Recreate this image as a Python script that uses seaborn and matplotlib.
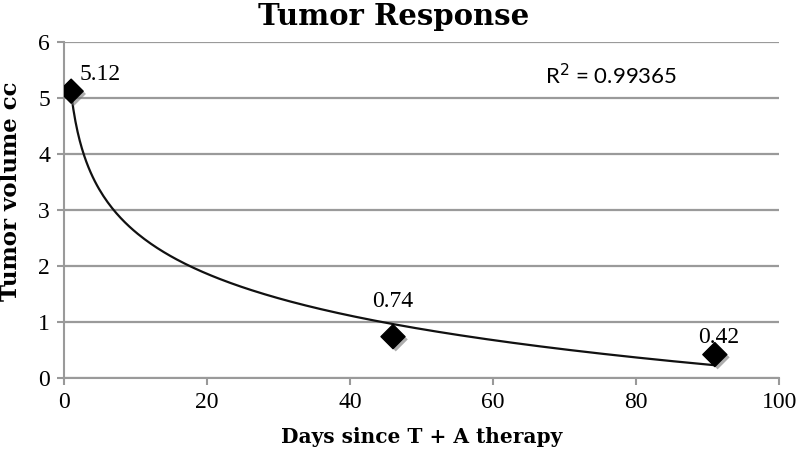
import matplotlib
matplotlib.use("Agg")
import matplotlib.pyplot as plt
import matplotlib.patheffects as pe
import numpy as np
import pandas as pd
import seaborn as sns

# observed tumor volumes
days = [1, 46, 91]
volume = [5.12, 0.74, 0.42]
point_labels = ["5.12", "0.74", "0.42"]
label_offsets = [(21, 8), (0, 21), (3, 8)]
r_squared_text = "R$^2$ = 0.99365"

x_ticks = [0, 20, 40, 60, 80, 100]
y_ticks = [0, 1, 2, 3, 4, 5, 6]

sns.set_style("white")
plt.rcParams["font.family"] = "serif"
plt.rcParams["font.serif"] = ["Liberation Serif", "DejaVu Serif"]
plt.rcParams["text.color"] = "black"
plt.rcParams["axes.labelcolor"] = "black"

df = pd.DataFrame({"days": days, "volume": volume})

# logarithmic trendline (like the spreadsheet one)
a, b = np.polyfit(np.log(df["days"]), df["volume"], 1)
trend_x = np.linspace(min(days), max(days), 300)
trend = pd.DataFrame({"days": trend_x, "volume": a * np.log(trend_x) + b})

fig = plt.figure(figsize=(8, 4.55), dpi=100)
ax = fig.add_axes([0.08, 0.169, 0.894, 0.739])

sns.lineplot(data=trend, x="days", y="volume", ax=ax, color="#111111", linewidth=1.6,
             zorder=3)
sns.scatterplot(data=df, x="days", y="volume", ax=ax, marker="D", s=150, color="black",
                edgecolor="black", zorder=4,
                path_effects=[pe.withSimplePatchShadow(offset=(2, -2), shadow_rgbFace="#777777",
                                                       alpha=0.6)])

for xv, yv, txt, off in zip(days, volume, point_labels, label_offsets):
    ax.annotate(txt, (xv, yv), xytext=off, textcoords="offset points", ha="center",
                va="baseline", fontsize=17, color="black")

ax.text(76.5, 5.39, r_squared_text, ha="center", va="center", fontsize=16,
        family=["Lato", "DejaVu Sans"], color="black")

ax.set_xlim(0, 100)
ax.set_ylim(0, 6)
ax.set_xticks(x_ticks)
ax.set_yticks(y_ticks)
ax.tick_params(axis="both", labelsize=17, length=5, color="#999999", width=1.5, pad=5,
               direction="out", labelcolor="black")
ax.tick_params(axis="x", bottom=True)
ax.tick_params(axis="y", left=True)
ax.yaxis.grid(True, color="#9a9a9a", linewidth=1.6)
ax.xaxis.grid(False)
for side in ["top", "right"]:
    ax.spines[side].set_visible(False)
for side in ["left", "bottom"]:
    ax.spines[side].set_color("#9a9a9a")
    ax.spines[side].set_linewidth(1.5)

serif = ["DejaVu Serif"]
fig.text(394 / 800, 1 - 25 / 455, "Tumor Response", ha="center", va="baseline",
         fontsize=21, fontweight="bold", family=serif, color="black")
ax.set_xlabel("Days since T + A therapy", fontsize=14.5, fontweight="bold", family=serif,
              labelpad=10)
ax.set_ylabel("Tumor volume cc", fontsize=16.5, fontweight="bold", family=serif)
ax.yaxis.set_label_coords(-0.059, 0.557)

fig.savefig("out.png", dpi=100)
